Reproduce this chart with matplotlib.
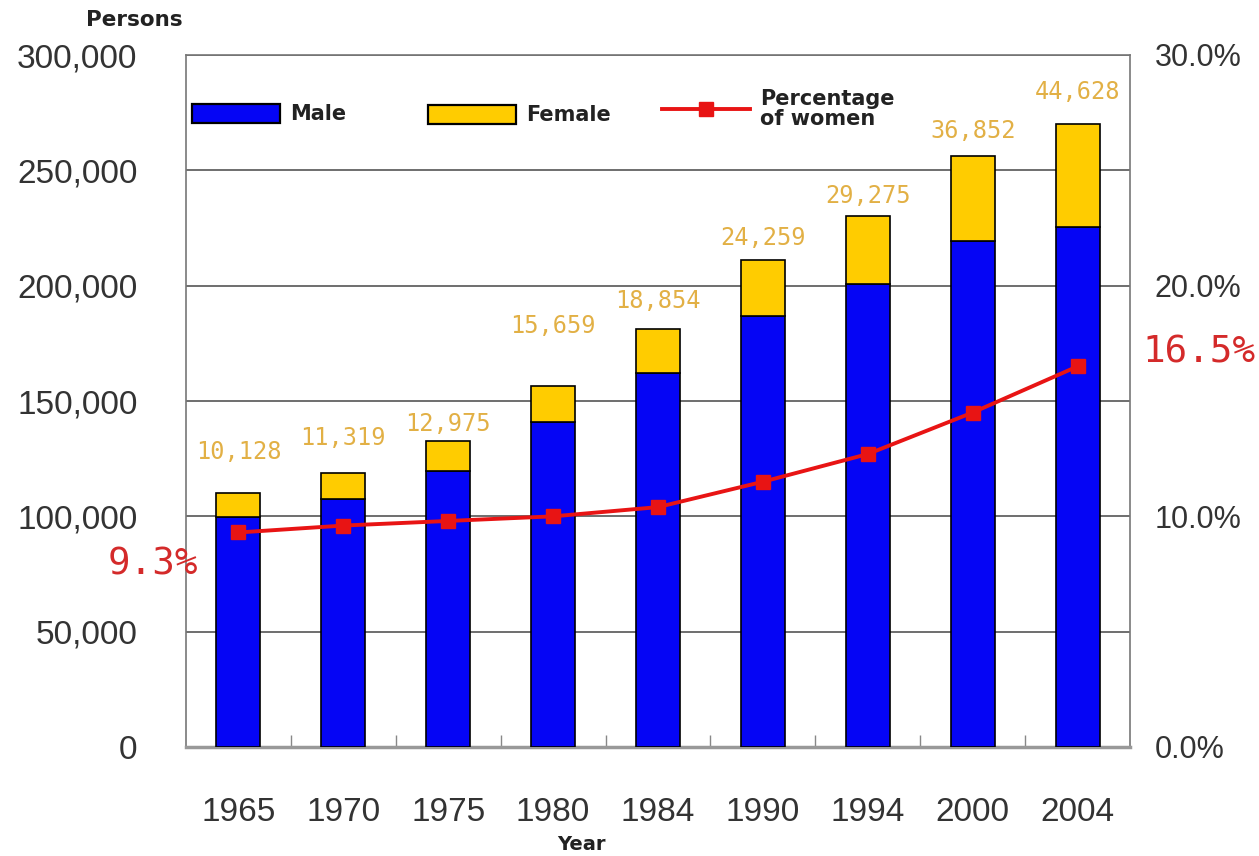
import matplotlib
matplotlib.use("Agg")
import matplotlib.pyplot as plt
from matplotlib.patches import Patch
from matplotlib.lines import Line2D
from matplotlib.ticker import FuncFormatter, FixedLocator

years = ["1965", "1970", "1975", "1980", "1984", "1990", "1994", "2000", "2004"]
male = [99800, 107500, 119800, 140800, 162300, 187000, 200800, 219400, 225500]
female = [10128, 11319, 12975, 15659, 18854, 24259, 29275, 36852, 44628]
pct_women = [9.3, 9.6, 9.8, 10.0, 10.4, 11.5, 12.7, 14.5, 16.5]

# vertical gap (px) between each bar top and its female count
label_gap = [41, 35, 17, 60, 28, 22, 20, 25, 32]

BLUE = "#0505F5"
GOLD = "#FFCC00"
RED = "#E81414"
LABEL_GOLD = "#E2B045"
LABEL_RED = "#D42A2A"
TICK = "#333333"

W, H = 1259, 856
fig = plt.figure(figsize=(W / 100, H / 100), dpi=100)
ax = fig.add_axes([186 / W, 1 - 747 / H, 944 / W, 692 / H])

x = list(range(len(years)))
bw = 0.42
ax.bar(x, male, bw, color=BLUE, edgecolor="black", linewidth=1.2, zorder=3)
ax.bar(x, female, bw, bottom=male, color=GOLD, edgecolor="black", linewidth=1.2, zorder=3)

for i, (m, f) in enumerate(zip(male, female)):
    ax.annotate(f"{f:,}", (i, m + f), xytext=(0, label_gap[i] * 0.72),
                textcoords="offset points", ha="center", va="center",
                fontsize=17, family="DejaVu Sans Mono", color=LABEL_GOLD)

ax.set_xlim(-0.5, len(years) - 0.5)
ax.set_ylim(0, 300000)
ax.set_yticks(range(0, 300001, 50000))
ax.yaxis.set_major_formatter(FuncFormatter(lambda v, p: f"{int(v):,}"))
ax.yaxis.grid(True, color="#555555", linewidth=1.2)
ax.set_axisbelow(True)

ax.set_xticks(x)
ax.set_xticklabels(years)
ax.xaxis.set_minor_locator(FixedLocator([i + 0.5 for i in x[:-1]]))
ax.tick_params(axis="x", which="major", length=0, pad=36, labelsize=24, labelcolor=TICK)
ax.tick_params(axis="x", which="minor", direction="in", length=9, color="#888888", width=1)
ax.tick_params(axis="y", length=0, pad=35, labelsize=24, labelcolor=TICK)
for lab in ax.get_xticklabels() + ax.get_yticklabels():
    lab.set_family("Liberation Sans")

for side in ["left", "right", "top"]:
    ax.spines[side].set_color("#777777")
    ax.spines[side].set_linewidth(1.2)
ax.spines["bottom"].set_color("#999999")
ax.spines["bottom"].set_linewidth(2.5)

ax2 = ax.twinx()
ax2.set_ylim(0, 30)
ax2.set_yticks([0, 10, 20, 30])
ax2.yaxis.set_major_formatter(FuncFormatter(lambda v, p: f"{v:.1f}%"))
ax2.tick_params(axis="y", length=0, pad=18, labelsize=22, labelcolor=TICK)
for lab in ax2.get_yticklabels():
    lab.set_family("Liberation Sans")
for s in ax2.spines.values():
    s.set_visible(False)

ax2.plot(x, pct_women, color=RED, linewidth=2.8, marker="s", markersize=10,
         markerfacecolor=RED, markeredgecolor=RED, zorder=5)

ax2.annotate(f"{pct_women[0]}%", (x[0], pct_women[0]), xytext=(-29, -23),
             textcoords="offset points", ha="right", va="center",
             fontsize=27, family="DejaVu Sans Mono", color=LABEL_RED,
             annotation_clip=False)
ax2.annotate(f"{pct_women[-1]}%", (x[-1], pct_women[-1]), xytext=(47, 10),
             textcoords="offset points", ha="left", va="center",
             fontsize=27, family="DejaVu Sans Mono", color=LABEL_RED,
             annotation_clip=False)

# legend entries placed individually along the top of the plot
leg_font = {"family": "DejaVu Sans", "weight": "bold", "size": 15}
entries = [
    (Patch(facecolor=BLUE, edgecolor="black", linewidth=1.6), "Male", 192, 114),
    (Patch(facecolor=GOLD, edgecolor="black", linewidth=1.6), "Female", 428, 115),
    (Line2D([], [], color=RED, linewidth=2.8, marker="s", markersize=10),
     "Percentage\nof women", 662, 109),
]
for handle, text, px, py in entries:
    lg = fig.legend([handle], [text], loc="center left",
                    bbox_to_anchor=(px / W, 1 - py / H), frameon=False,
                    borderpad=0, borderaxespad=0, handlelength=4.2,
                    handleheight=1.06, handletextpad=0.5, prop=leg_font,
                    labelspacing=0)
    for t in lg.get_texts():
        t.set_color("#222222")
        t.set_linespacing(1.0)

fig.text(134 / W, 1 - 20 / H, "Persons", ha="center", va="center",
         fontsize=15.5, fontweight="bold", family="DejaVu Sans", color="#222222")
fig.text(581 / W, 1 - 845 / H, "Year", ha="center", va="center",
         fontsize=14, fontweight="bold", family="DejaVu Sans", color="#222222")

fig.savefig("out.png", dpi=100, facecolor="white")
